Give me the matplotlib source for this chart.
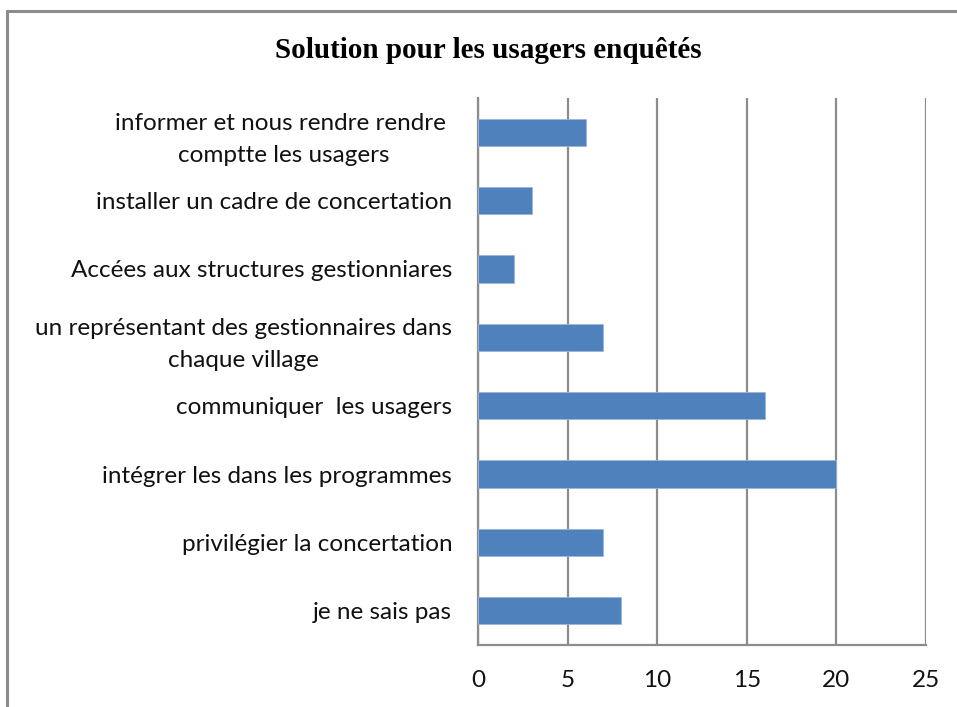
import matplotlib.pyplot as plt
from matplotlib.patches import Rectangle

categories = [
    "informer et nous rendre rendre \ncomptte les usagers",
    "installer un cadre de concertation",
    "Accées aux structures gestionniares",
    "un représentant des gestionnaires dans\nchaque village",
    "communiquer  les usagers",
    "intégrer les dans les programmes",
    "privilégier la concertation",
    "je ne sais pas",
]
values = [6, 3, 2, 7, 16, 20, 7, 8]
x_ticks = [0, 5, 10, 15, 20, 25]

W, H = 957, 707
fig = plt.figure(figsize=(W / 100, H / 100), dpi=100)

# chart frame (only top and left edges fall inside the image)
fig.add_artist(Rectangle((6.5 / W, -0.1), 1.2, 1.1 - 11 / H,
                         transform=fig.transFigure, fill=False,
                         edgecolor="#8c8c8c", linewidth=2.2))

ax = fig.add_axes([478 / W, 1 - 645 / H, (926 - 478) / W, (645 - 98) / H])

pos = list(range(len(categories)))
ax.barh(pos, values, height=0.4, color="#4f81bd", edgecolor="#9ab6dc",
        linewidth=0.6, zorder=3)
ax.set_ylim(len(categories) - 0.5, -0.5)
ax.set_xlim(0, 25)
ax.set_xticks(x_ticks)
ax.set_yticks(pos)
ax.set_yticklabels(categories, ha="right", multialignment="center")

lbl_font = "Lato"
for t in ax.get_yticklabels() + ax.get_xticklabels():
    t.set_fontfamily(lbl_font)
    t.set_fontsize(17.5)
    t.set_color("#111111")
for t in ax.get_yticklabels():
    t.set_linespacing(1.65)

ax.tick_params(axis="y", length=0, pad=18.5)
ax.tick_params(axis="x", length=0, pad=18)
ax.xaxis.grid(True, color="#8c8c8c", linewidth=1.6, zorder=0)

for side in ["top", "right"]:
    ax.spines[side].set_visible(False)
for side in ["left", "bottom"]:
    ax.spines[side].set_color("#8c8c8c")
    ax.spines[side].set_linewidth(1.6)

fig.text(488 / W, 1 - 51 / H, "Solution pour les usagers enquêtés",
         ha="center", va="center", fontsize=21, fontweight="bold",
         family="Liberation Serif")

fig.savefig("out.png", dpi=100)
